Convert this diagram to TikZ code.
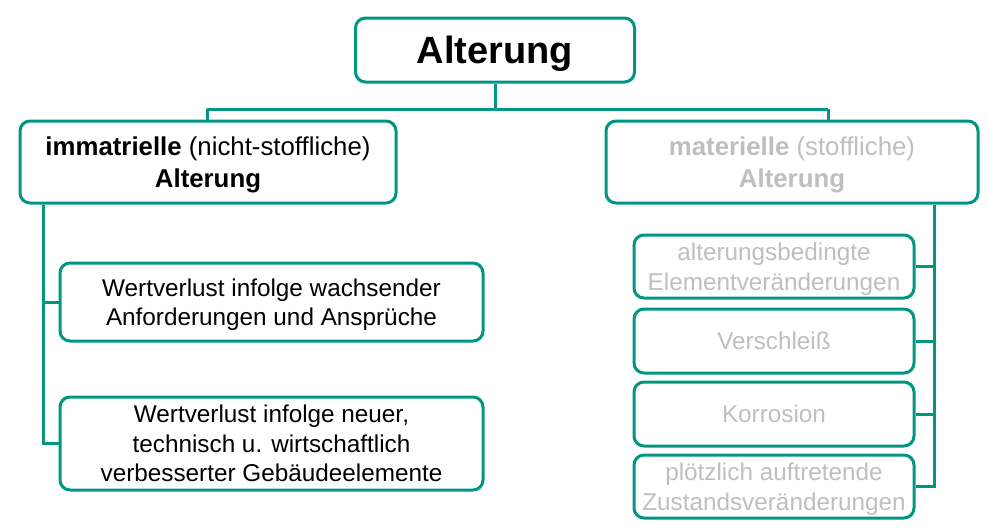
\documentclass[tikz,border=0pt]{standalone}
\usepackage{fontspec}
\setmainfont{Liberation Sans}
\usepackage{tikz}
\usetikzlibrary{positioning}
\definecolor{teal}{RGB}{0,150,130}
\definecolor{lightgray}{RGB}{191,191,191}
\tikzset{
  box/.style={draw=teal, line width=3pt, rounded corners=10pt, fill=white,
    align=center, inner sep=0pt, text depth=0pt, font=\fontsize{24.3}{29.5}\selectfont},
  link/.style={teal, line width=3pt}
}

\begin{document}
\begin{tikzpicture}[x=1pt, y=-1pt]
      \useasboundingbox (0,0) rectangle (988,531);
      % root
      \node[box, minimum width=279pt, minimum height=64pt, font=\fontsize{38}{44}\selectfont\bfseries] (top) at (495,50) {Alterung};
      % two main branches
      \node[box, minimum width=376pt, minimum height=82pt, font=\fontsize{25.8}{32}\selectfont] (left) at (208,162)
        {\textbf{immatrielle} (nicht-stoffliche)\\ \textbf{Alterung}};
      \node[box, minimum width=372pt, minimum height=82pt, text=lightgray, font=\fontsize{25.8}{32}\selectfont] (right) at (792,162)
        {\textbf{materielle} (stoffliche)\\ \textbf{Alterung}};
      % immaterial items
      \node[box, minimum width=423pt, minimum height=78pt] (l1) at (271.5,302) {Wertverlust infolge wachsender\\ Anforderungen und Ansprüche};
      \node[box, minimum width=423pt, minimum height=93pt] (l2) at (271.5,443.5) {Wertverlust infolge neuer,\\ technisch u. wirtschaftlich\\ verbesserter Gebäudeelemente};
      % material items
      \node[box, minimum width=280pt, minimum height=63pt, text=lightgray] (r1) at (774,266.5) {alterungsbedingte\\ Elementveränderungen};
      \node[box, minimum width=280pt, minimum height=64pt, text=lightgray] (r2) at (774,341) {Verschleiß};
      \node[box, minimum width=280pt, minimum height=64pt, text=lightgray] (r3) at (774,414) {Korrosion};
      \node[box, minimum width=280pt, minimum height=63pt, text=lightgray] (r4) at (774,486.5) {plötzlich auftretende\\ Zustandsveränderungen};
      % branch points
      \coordinate (split) at (495,109);
      \coordinate (lbranch) at (207,109);
      \coordinate (rbranch) at (828,109);
      \coordinate (lspine) at (43,443.5);
      \coordinate (rspine) at (934,486.5);
      % connectors
      \draw[link] (top.south) -- (split);
      \draw[link] (lbranch) -- (rbranch);
      \draw[link] (lbranch) -- (lbranch |- left.north);
      \draw[link] (rbranch) -- (rbranch |- right.north);
      \draw[link] (lspine |- left.south) -- (lspine) -- (l2.west);
      \draw[link] (lspine |- l1.west) -- (l1.west);
      \draw[link] (rspine |- right.south) -- (rspine) -- (r4.east);
      \foreach \n in {r1,r2,r3}
        \draw[link] (\n.east) -- (rspine |- \n.east);
    \end{tikzpicture}
\end{document}
